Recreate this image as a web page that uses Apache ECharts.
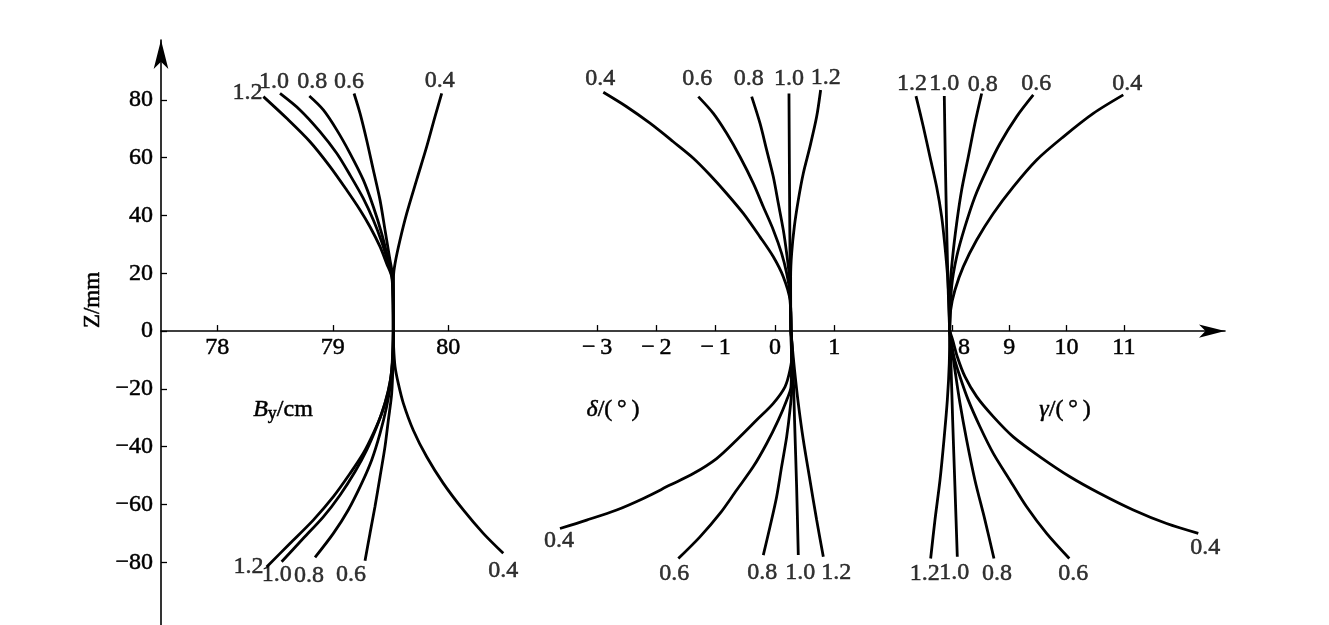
<!DOCTYPE html>
<html><head><meta charset="utf-8">
<script src="https://cdn.jsdelivr.net/npm/echarts@6/dist/echarts.min.js"></script>
<style>html,body{margin:0;padding:0;background:#fff}#c{width:1329px;height:625px}</style>
</head><body><div id="c"></div>
<script>
// ---- data ----
const params = ['1.2', '1.0', '0.8', '0.6', '0.4'];
const zTicks = [-80, -60, -40, -20, 0, 20, 40, 60, 80];
const byTicks = [78, 79, 80];
const deltaTicks = [-3, -2, -1, 0, 1];
const gammaTicks = [8, 9, 10, 11];

// B_y / cm  vs Z / mm
const byUp12 = [[78.399,81.1],[78.601,73.6],[78.803,65.5],[78.976,56.9],[79.120,48.8],[79.236,41.9],[79.322,36.1],[79.409,29.2],[79.466,23.4],[79.510,18.8],[79.522,10],[79.524,0]];
const byUp10 = [[78.543,82.2],[78.716,76.5],[78.889,69.0],[79.034,61.5],[79.149,54.0],[79.264,45.9],[79.351,38.4],[79.423,30.9],[79.481,23.4],[79.515,18.2],[79.523,10],[79.524,0]];
const byUp08 = [[78.797,81.3],[78.918,76.5],[79.034,69.6],[79.149,61.5],[79.264,52.3],[79.351,43.0],[79.423,33.8],[79.481,24.6],[79.518,18.2],[79.524,0]];
const byUp06 = [[79.184,82.2],[79.236,75.3],[79.293,66.1],[79.351,55.7],[79.409,45.3],[79.452,35.0],[79.495,24.6],[79.518,19],[79.524,0]];
const byUp04 = [[79.943,82.2],[79.885,74.2],[79.813,63.8],[79.726,52.3],[79.640,40.7],[79.582,31.5],[79.539,23.4],[79.526,19],[79.524,0]];
const byLo12 = [[78.427,-81.6],[78.629,-73.5],[78.831,-65.4],[79.005,-57.3],[79.149,-49.3],[79.264,-42.3],[79.351,-35.4],[79.423,-28.5],[79.481,-20.4],[79.510,-13.5],[79.524,0]];
const byLo10 = [[78.557,-79.8],[78.745,-71.7],[78.918,-64.3],[79.062,-56.8],[79.192,-48.7],[79.293,-41.2],[79.380,-33.1],[79.452,-25.0],[79.495,-18.1],[79.518,-10],[79.524,0]];
const byLo08 = [[78.846,-78.3],[79.005,-70.0],[79.134,-61.9],[79.250,-52.7],[79.337,-44.6],[79.409,-35.4],[79.466,-26.2],[79.501,-18.1],[79.520,-9],[79.524,0]];
const byLo06 = [[79.279,-79.5],[79.322,-70.0],[79.365,-60.8],[79.409,-50.4],[79.452,-40.0],[79.481,-30.8],[79.510,-21.6],[79.522,-10],[79.524,0]];
const byLo04 = [[80.476,-76.9],[80.303,-70.0],[80.130,-61.9],[79.957,-52.7],[79.813,-43.5],[79.697,-34.3],[79.611,-25.0],[79.567,-18.1],[79.539,-12.3],[79.526,-5],[79.524,0]];

// delta / deg vs Z / mm
const dUp04 = [[-2.895,82.6],[-2.501,77.6],[-2.108,71.9],[-1.715,65.5],[-1.377,59.8],[-1.096,54.0],[-0.815,47.6],[-0.534,40.7],[-0.253,32.6],[-0.028,25.7],[0.140,18.8],[0.253,10.7],[0.27,0]];
const dUp06 = [[-1.293,81.1],[-1.040,75.3],[-0.815,68.4],[-0.590,60.3],[-0.365,51.1],[-0.197,43.0],[-0.028,35.0],[0.112,26.9],[0.197,20.0],[0.253,13.0],[0.27,0]];
const dUp08 = [[-0.393,81.1],[-0.253,71.9],[-0.140,62.6],[-0.028,53.4],[0.056,44.2],[0.140,35.0],[0.197,26.9],[0.242,18.8],[0.265,8],[0.27,0]];
const dUp10 = [[0.236,82.2],[0.242,60],[0.250,35],[0.260,12],[0.27,0]];
const dUp12 = [[0.770,83.4],[0.703,74.2],[0.590,63.8],[0.478,54.6],[0.393,45.3],[0.326,36.1],[0.281,26.9],[0.264,18.8],[0.265,8],[0.27,0]];
const dLo04 = [[-3.626,-68.3],[-3.176,-65.4],[-2.670,-61.9],[-2.220,-57.9],[-1.771,-53.3],[-1.377,-49.3],[-0.984,-44.1],[-0.646,-37.7],[-0.309,-30.8],[-0.028,-25.0],[0.169,-19.3],[0.253,-13.5],[0.290,-7.7],[0.27,0]];
const dLo06 = [[-1.630,-78.7],[-1.265,-71.2],[-0.927,-63.1],[-0.646,-55.0],[-0.365,-46.9],[-0.140,-38.9],[0.056,-30.8],[0.197,-23.9],[0.270,-19.3],[0.28,-10],[0.27,0]];
const dLo08 = [[-0.197,-77.5],[-0.084,-67.7],[0.028,-57.3],[0.112,-46.9],[0.197,-36.6],[0.253,-27.3],[0.285,-19.3],[0.28,-10],[0.27,0]];
const dLo10 = [[0.393,-77.5],[0.365,-53.9],[0.330,-30.8],[0.300,-10],[0.27,0]];
const dLo12 = [[0.815,-78.1],[0.703,-65.4],[0.590,-51.6],[0.478,-37.7],[0.393,-25.0],[0.330,-13.5],[0.29,-5],[0.27,0]];

// gamma / deg vs Z / mm
const gUp12 = [[7.372,81.3],[7.500,70.7],[7.616,60.3],[7.732,49.9],[7.820,39.6],[7.878,29.2],[7.924,18.8],[7.948,9.6],[7.96,0]];
const gUp10 = [[7.866,81.3],[7.884,59.2],[7.907,36.1],[7.936,13.0],[7.96,0]];
const gUp08 = [[8.518,82.2],[8.401,71.9],[8.285,60.3],[8.169,48.8],[8.082,37.3],[8.012,25.7],[7.965,14.2],[7.96,0]];
const gUp06 = [[9.419,81.7],[9.129,74.2],[8.838,64.9],[8.605,55.7],[8.401,46.5],[8.227,36.1],[8.082,25.7],[7.994,15.3],[7.96,0]];
const gUp04 = [[10.990,81.7],[10.467,75.3],[9.943,67.2],[9.478,59.2],[9.070,49.9],[8.721,40.7],[8.431,31.5],[8.198,22.3],[8.052,14.2],[7.977,7.3],[7.96,0]];
const gLo12 = [[7.628,-78.7],[7.703,-65.4],[7.791,-51.6],[7.860,-37.7],[7.919,-23.9],[7.953,-11.2],[7.96,0]];
const gLo10 = [[8.093,-78.1],[8.052,-53.9],[8.012,-30.8],[7.977,-7.7],[7.96,0]];
const gLo08 = [[8.733,-78.7],[8.576,-65.4],[8.401,-51.6],[8.256,-37.7],[8.140,-25.0],[8.052,-13.5],[7.994,-5.4],[7.96,0]];
const gLo06 = [[10.048,-78.7],[9.652,-70.0],[9.303,-60.8],[9.012,-51.6],[8.721,-42.3],[8.489,-33.1],[8.285,-23.9],[8.140,-15.8],[8.035,-8.9],[7.96,0]];
const gLo04 = [[12.299,-70.0],[11.746,-66.6],[11.165,-61.9],[10.583,-56.2],[10.059,-50.4],[9.536,-43.5],[9.070,-36.6],[8.721,-29.6],[8.431,-22.7],[8.227,-15.8],[8.093,-8.9],[8.012,-3.1],[7.96,0]];

// ---- layout / style ----
const FONT = '"Liberation Serif","DejaVu Serif",serif';
const BLACK = '#000';
const TB = { textBorderColor: BLACK, textBorderWidth: 0.5 };
const W = 1329, H = 625;
const GRID = { left: 161, right: 104, top: 40, bottom: 0 };
const Y_MIN = -101.7, Y_MAX = 100.7;
const xRanges = [[77.5126, 86.7247], [-10.354, 7.589], [-5.804, 12.765]];
const xTickSets = [byTicks, deltaTicks, gammaTicks];
// distance (px) from the grid's bottom edge up to Z = 0, from the y range
const gridH = H - GRID.top - GRID.bottom;
const zeroLift = gridH * (0 - Y_MIN) / (Y_MAX - Y_MIN);

const panels = [
  { up: [byUp12, byUp10, byUp08, byUp06, byUp04], lo: [byLo12, byLo10, byLo08, byLo06, byLo04],
    upOff: [[-16,-4],[-6,-12],[3,-14],[-5,-12],[-2,-13]], loOff: [[-18,0],[-5,13],[-6,18],[-14,14],[0,17]] },
  { up: [dUp12, dUp10, dUp08, dUp06, dUp04], lo: [dLo12, dLo10, dLo08, dLo06, dLo04],
    upOff: [[5,-12],[0,-15],[-3,-18],[-1,-18],[-3,-14]], loOff: [[13,16],[2,18],[-1,18],[-4,15],[-1,12]] },
  { up: [gUp12, gUp10, gUp08, gUp06, gUp04], lo: [gLo12, gLo10, gLo08, gLo06, gLo04],
    upOff: [[-4,-12],[0,-12],[1,-9],[3,-11],[4,-11]], loOff: [[-6,15],[-3,16],[3,15],[4,15],[7,14]] }
];

const grids = [], xAxes = [], yAxes = [], series = [];
panels.forEach((p, i) => {
  grids.push(Object.assign({ outerBoundsMode: 'none', containLabel: false }, GRID));
  xAxes.push({
    type: 'value', gridIndex: i, min: xRanges[i][0], max: xRanges[i][1],
    position: 'bottom', offset: -zeroLift,
    axisLine: { show: i === 0, onZero: false, lineStyle: { color: BLACK, width: 1.6 },
      symbol: ['none', 'arrow'], symbolSize: [10, 26] },
    splitLine: { show: false },
    axisTick: { show: true, inside: true, length: 6, customValues: xTickSets[i], lineStyle: { color: BLACK, width: 1.3 } },
    axisLabel: Object.assign({
      show: true, customValues: xTickSets[i], margin: 5, color: BLACK,
      fontFamily: FONT, fontSize: 24,
      formatter: v => {
        const s = String(v).replace('-', '\u2212\u2009');
        return (i === 2 && v === 8) ? '{p|' + s + '}' : s;
      },
      rich: { p: Object.assign({ padding: [0, 0, 0, 24], fontFamily: FONT, fontSize: 24, color: BLACK }, TB) }
    }, TB)
  });
  yAxes.push({
    type: 'value', gridIndex: i, min: Y_MIN, max: Y_MAX, show: i === 0,
    position: 'left',
    axisLine: { show: true, onZero: false, lineStyle: { color: BLACK, width: 1.6 },
      symbol: ['none', 'arrow'], symbolSize: [11, 29] },
    splitLine: { show: false },
    axisTick: { show: true, inside: true, length: 6, customValues: zTicks, lineStyle: { color: BLACK, width: 1.3 } },
    axisLabel: Object.assign({ show: true, customValues: zTicks, margin: 8, color: BLACK, fontFamily: FONT, fontSize: 24,
      formatter: v => String(v).replace('-', '\u2212') }, TB)
  });
  const addCurve = (arr) => series.push({
    type: 'line', xAxisIndex: i, yAxisIndex: i, data: arr, smooth: 0.3,
    showSymbol: false, symbol: 'none', silent: true, animation: false,
    lineStyle: { color: BLACK, width: 2.8 }
  });
  p.up.forEach(addCurve);
  p.lo.forEach(addCurve);
  const lbl = [];
  p.up.forEach((arr, k) => lbl.push({ value: arr[0], name: params[k], label: { offset: p.upOff[k] } }));
  p.lo.forEach((arr, k) => lbl.push({ value: arr[0], name: params[k], label: { offset: p.loOff[k] } }));
  series.push({
    type: 'scatter', xAxisIndex: i, yAxisIndex: i, data: lbl, symbolSize: 0, silent: true, animation: false,
    label: Object.assign({ show: true, position: 'inside', formatter: d => d.name, color: BLACK, fontFamily: FONT, fontSize: 24 }, TB)
  });
});

const rs = (extra) => Object.assign({ fontFamily: FONT, fontSize: 24, fill: BLACK, stroke: BLACK, lineWidth: 0.5 }, extra || {});
const chart = echarts.init(document.getElementById('c'), null, { renderer: 'canvas' });
chart.setOption({
  backgroundColor: '#fff',
  animation: false,
  grid: grids, xAxis: xAxes, yAxis: yAxes, series: series,
  graphic: [
    { type: 'text', x: 93, y: 300, rotation: Math.PI / 2,
      style: { text: 'Z/mm', fill: BLACK, stroke: BLACK, lineWidth: 0.5, font: '23px ' + FONT, align: 'center', verticalAlign: 'middle' } },
    { type: 'text', x: 283, y: 410,
      style: { text: '{i|B}{s|y}{n|/cm}', align: 'center', verticalAlign: 'middle',
        rich: { i: rs({ fontStyle: 'italic' }), s: rs({ fontSize: 18, padding: [8, 0, 0, 0] }), n: rs() } } },
    { type: 'text', x: 613, y: 410,
      style: { text: '{i|\u03b4}{n|/(\u2009\u00b0\u2009)}', align: 'center', verticalAlign: 'middle',
        rich: { i: rs({ fontStyle: 'italic' }), n: rs() } } },
    { type: 'text', x: 1065, y: 410,
      style: { text: '{i|\u03b3}{n|/(\u2009\u00b0\u2009)}', align: 'center', verticalAlign: 'middle',
        rich: { i: rs({ fontStyle: 'italic' }), n: rs() } } }
  ]
});
</script>
</body></html>
